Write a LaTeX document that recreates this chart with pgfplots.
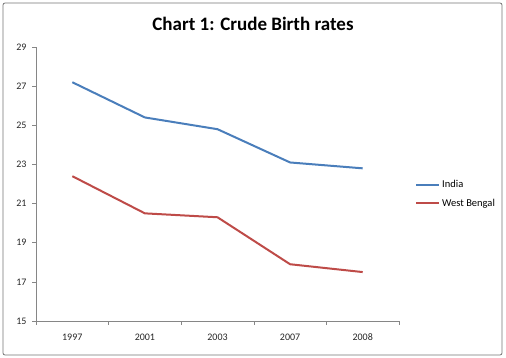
\documentclass[border=0pt]{standalone}
\usepackage{pgfplots}
\pgfplotsset{compat=1.18}
\usepackage{fontspec}
\setmainfont{Carlito}
\definecolor{indiablue}{HTML}{4A7EBB}
\definecolor{wbred}{HTML}{BE4B48}
\definecolor{axgray}{HTML}{868686}
\begin{document}
\begin{tikzpicture}[x=1pt,y=1pt]
\path[use as bounding box] (0,0) rectangle (506,358);
\draw[rounded corners=2pt, draw=black!55, line width=0.8pt] (3,3) rectangle (502,355);
\node[font=\bfseries\fontsize{19}{21}\selectfont] at (253,334) {Chart 1: Crude Birth rates};
\begin{axis}[
  at={(36pt,37pt)}, anchor=south west,
  scale only axis, width=363pt, height=274pt,
  xmin=-0.5, xmax=4.5, ymin=15, ymax=29,
  xtick={0,1,2,3,4}, xticklabels={1997,2001,2003,2007,2008},
  extra x ticks={-0.5,0.5,1.5,2.5,3.5,4.5}, extra x tick labels={},
  extra x tick style={xtick style={draw=axgray, line width=0.6pt}},
  ytick={15,17,...,29},
  axis x line*=bottom, axis y line*=left,
  axis line style={axgray, line width=0.6pt},
  major tick length=4pt,
  xtick style={draw=none},
  ytick style={axgray, line width=0.6pt},
  tick align=outside,
  ticklabel style={font=\fontsize{10}{12}\selectfont, text=black!85},
  /pgf/number format/assume math mode=true,
  yticklabel style={xshift=-2pt},
  xticklabel style={yshift=-5pt},
  legend style={at={(379pt,127pt)}, anchor=west, draw=none, fill=none, font=\fontsize{10.5}{12}\selectfont, row sep=6pt, inner sep=0pt},
  legend cell align=left,
  legend image code/.code={\draw[#1] (0pt,0pt) -- (23pt,0pt);},
]
\addplot[indiablue, line width=2pt] coordinates {(0,27.2) (1,25.4) (2,24.8) (3,23.1) (4,22.8)};
\addlegendentry{India}
\addplot[wbred, line width=2pt] coordinates {(0,22.4) (1,20.5) (2,20.3) (3,17.9) (4,17.5)};
\addlegendentry{West Bengal}
\end{axis}
\end{tikzpicture}
\end{document}
